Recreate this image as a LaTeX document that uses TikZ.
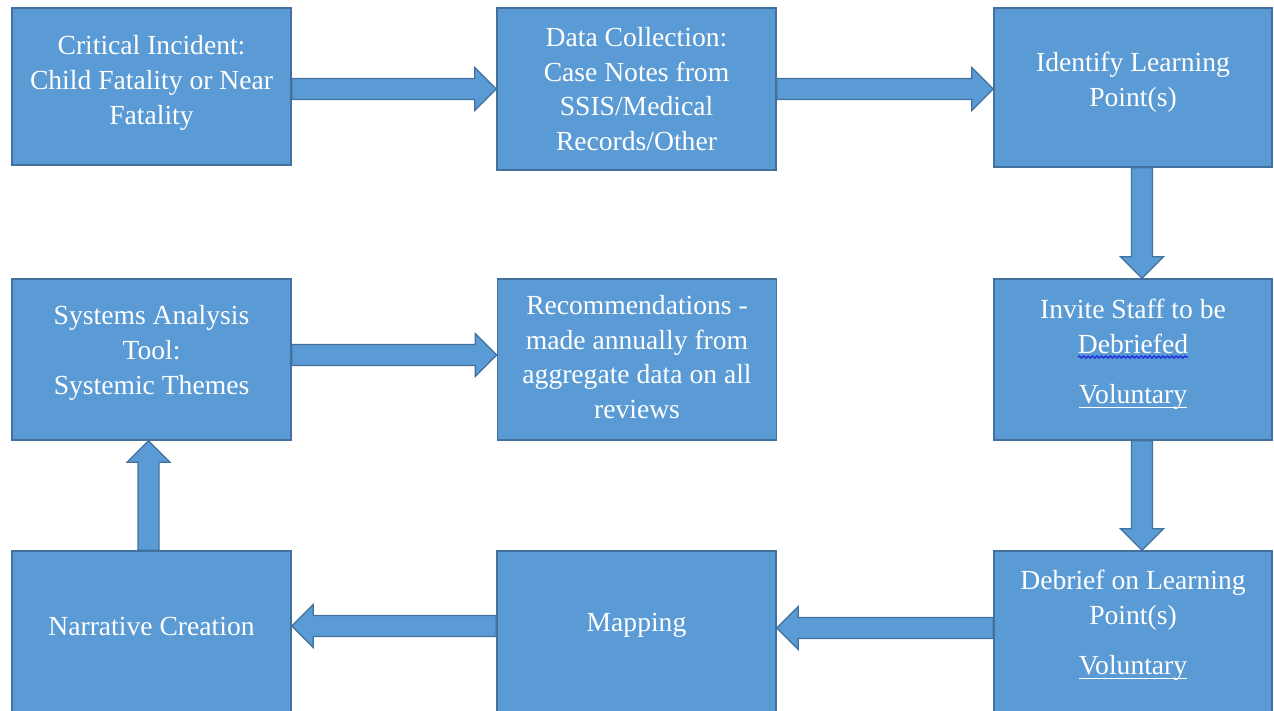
\documentclass[tikz,border=0pt]{standalone}
\usepackage{fontspec}
\setmainfont{Liberation Serif}
\usetikzlibrary{calc,decorations.pathmorphing}
\definecolor{boxfill}{HTML}{5B9BD5}
\definecolor{boxline}{HTML}{41719C}
\definecolor{spellblue}{HTML}{2233E0}
\newcommand\shw{5.25pt}
\newcommand\hhw{10.75pt}
\newcommand\hdl{10.75pt}
\newcommand\ulwhite[1]{\setbox0\hbox{#1}\rlap{\rule[-2.4pt]{\wd0}{0.6pt}}\box0}
\tikzset{
  flowbox/.style={draw=boxline, fill=boxfill, line width=0.7pt, minimum width=139.5pt, inner sep=0pt},
  boxtext/.style={text=white, align=center, inner sep=0pt, font=\fontsize{13.8pt}{17.4pt}\selectfont},
  wavy/.style={draw=spellblue, line width=0.75pt, decorate, decoration={snake, amplitude=0.5pt, segment length=2.2pt}},
  blockarrow/.style={draw=boxline, fill=boxfill, line width=0.6pt, line join=miter,
    to path={
      ($(\tikztostart)!\shw!90:(\tikztotarget)$)
      -- ($(\tikztotarget)!\hdl!(\tikztostart) + (\tikztostart)!\shw!90:(\tikztotarget) - (\tikztostart)$)
      -- ($(\tikztotarget)!\hdl!(\tikztostart) + (\tikztostart)!\hhw!90:(\tikztotarget) - (\tikztostart)$)
      -- (\tikztotarget)
      -- ($(\tikztotarget)!\hdl!(\tikztostart) + (\tikztostart)!\hhw!-90:(\tikztotarget) - (\tikztostart)$)
      -- ($(\tikztotarget)!\hdl!(\tikztostart) + (\tikztostart)!\shw!-90:(\tikztotarget) - (\tikztostart)$)
      -- ($(\tikztostart)!\shw!-90:(\tikztotarget)$)
      -- cycle}}
}
\begin{document}
\begin{tikzpicture}[x=0.5pt,y=-0.5pt]
\path[use as bounding box, clip] (0,0) rectangle (1274,711);
\fill[white] (0,0) rectangle (1274,711);

% boxes
\node[flowbox, minimum height=78.5pt] (a) at (151.5,86.5) {};
\node[flowbox, minimum height=81pt]   (b) at (636.5,89) {};
\node[flowbox, minimum height=79.5pt, minimum width=139pt] (c) at (1133,87.5) {};
\node[flowbox, minimum height=80.5pt] (d) at (151.5,359.5) {};
\node[flowbox, minimum height=80.5pt] (e) at (637,359.5) {};
\node[flowbox, minimum height=80.5pt, minimum width=139pt] (f) at (1133,359.5) {};
\node[flowbox, minimum height=82pt] (g) at (151.5,633) {};
\node[flowbox, minimum height=82pt] (h) at (636.5,633) {};
\node[flowbox, minimum height=82pt, minimum width=139pt] (i) at (1133,633) {};

% texts
\node[boxtext] (at) at (151.5,83) {Critical Incident:\\Child Fatality or Near\\Fatality};
\node[boxtext] (bt) at (636.5,89) {Data Collection:\\Case Notes from\\SSIS/Medical\\Records/Other};
\node[boxtext] (ct) at (1133,82) {Identify Learning\\Point(s)};
\node[boxtext] (dt) at (151.5,353) {Systems Analysis\\Tool:\\Systemic Themes};
\node[boxtext] (et) at (637,357) {Recommendations -\\made annually from\\aggregate data on all\\reviews};
\node[boxtext] (ft) at (1133,354) {Invite Staff to be\\Debriefed\\[7.5pt]\ulwhite{Voluntary}};
\node[boxtext] (gt) at (151.5,626) {Narrative Creation};
\node[boxtext] (ht) at (636.5,625) {Mapping};
\node[boxtext] (it) at (1133,625) {Debrief on Learning\\Point(s)\\[7.5pt]\ulwhite{Voluntary}};

% spell-check squiggle under "Debriefed"
\draw[wavy] ($(ft.center)+(-55,3)$) -- ($(ft.center)+(55,3)$);

% arrow start points
\coordinate (cs) at ($(c.south)+(9,0)$);
\coordinate (fs) at ($(f.south)+(9,0)$);
\coordinate (iw) at ($(i.west)+(0,-5)$);
\coordinate (hw) at ($(h.west)+(0,-7)$);
\coordinate (gn) at ($(g.north)+(-3,0)$);
\coordinate (de) at ($(d.east)+(0,-4.5)$);

% arrows
\draw[blockarrow] (a.east |- b.west) to (b.west);
\draw[blockarrow] (b.east) to (b.east -| c.west);
\draw[blockarrow] (cs) to (cs |- f.north);
\draw[blockarrow] (fs) to (fs |- i.north);
\draw[blockarrow] (iw) to (iw -| h.east);
\draw[blockarrow] (hw) to (hw -| g.east);
\draw[blockarrow] (gn) to (gn |- d.south);
\draw[blockarrow] (de) to (de -| e.west);
\end{tikzpicture}
\end{document}
